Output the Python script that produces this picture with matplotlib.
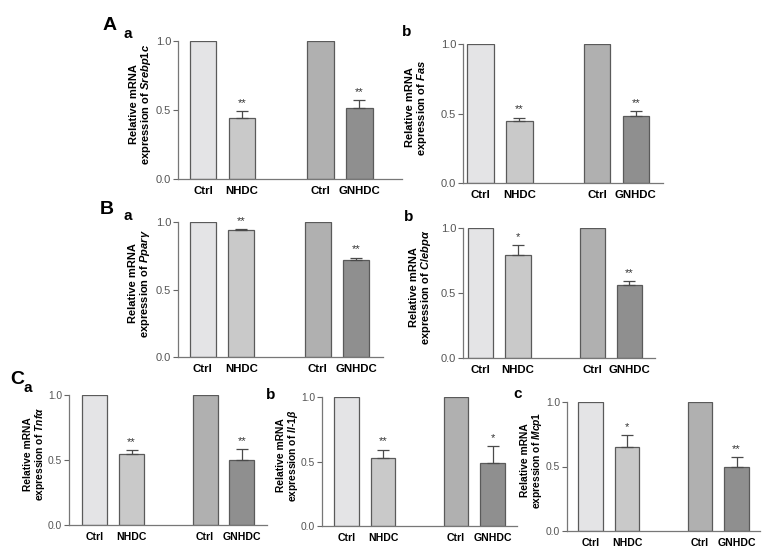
import numpy as np
import matplotlib.pyplot as plt

plt.rcParams['font.family'] = ['Liberation Sans', 'DejaVu Sans']
plt.rcParams['mathtext.fontset'] = 'custom'
plt.rcParams['mathtext.it'] = 'Liberation Sans:italic:bold'
plt.rcParams['mathtext.rm'] = 'Liberation Sans:bold'

# ---- data (relative mRNA expression, Ctrl = 1.0) ----
groups = ["Ctrl", "NHDC", "Ctrl", "GNHDC"]
genes = [r"$\it{Srebp1c}$", r"$\it{Fas}$", r"$\it{Ppar\gamma}$", r"$\it{C}$/$\it{ebp\alpha}$",
         r"$\it{Tnf\alpha}$", r"$\it{Il}$-$\it{1\beta}$", r"$\it{Mcp1}$"]
ctrl = [1.0, 1.0, 1.0, 1.0, 1.0, 1.0, 1.0]
nhdc = [0.44, 0.445, 0.943, 0.79, 0.546, 0.526, 0.65]
nhdc_err = [0.05, 0.025, 0.005, 0.08, 0.03, 0.065, 0.095]
gnhdc = [0.517, 0.48, 0.722, 0.56, 0.50, 0.487, 0.50]
gnhdc_err = [0.055, 0.035, 0.015, 0.03, 0.082, 0.13, 0.073]
nhdc_stars = ["**", "**", "**", "*", "**", "**", "*"]
gnhdc_stars = ["**", "**", "**", "**", "**", "*", "**"]

colors = ["#e4e4e6", "#c9c9c9", "#b0b0b0", "#8f8f8f"]
xpos = [0, 1, 3, 4]

W, H = 777, 557
fig = plt.figure(figsize=(W / 100, H / 100), dpi=100)

# panel boxes in pixels: x0, x1, y_top(1.0), y_bottom(0.0), xlim, label centre x, font size
boxes = [
    (178, 402, 41, 179, (-0.64, 5.09), 141, 8.0),
    (463, 663, 44, 183, (-0.45, 4.70), 417, 8.0),
    (178, 383, 222, 357, (-0.65, 4.70), 140, 8.0),
    (463, 655, 228, 358, (-0.48, 4.69), 421, 8.0),
    (69, 267, 395, 525, (-0.70, 4.68), 35, 7.4),
    (322, 517, 397, 526, (-0.67, 4.67), 288, 7.4),
    (567, 760, 402, 531, (-0.64, 4.64), 532, 7.4),
]

for i, (x0, x1, yt, yb, xl, lx, fs) in enumerate(boxes):
    ax = fig.add_axes([x0 / W, 1 - yb / H, (x1 - x0) / W, (yb - yt) / H])
    vals = [ctrl[i], nhdc[i], ctrl[i], gnhdc[i]]
    errs = [0, nhdc_err[i], 0, gnhdc_err[i]]
    ax.bar(xpos, vals, width=0.68, color=colors, edgecolor="#5a5a5a", linewidth=0.9, zorder=2)
    for k in (1, 3):
        ax.errorbar(xpos[k], vals[k], yerr=[[0], [errs[k]]], fmt="none",
                    ecolor="#4a4a4a", elinewidth=0.9, capsize=4, capthick=0.9, zorder=3)
    ax.text(xpos[1], nhdc[i] + nhdc_err[i] + 0.025, nhdc_stars[i], ha="center", va="bottom",
            fontsize=8, color="#333333")
    ax.text(xpos[3], gnhdc[i] + gnhdc_err[i] + 0.025, gnhdc_stars[i], ha="center", va="bottom",
            fontsize=8, color="#333333")
    ax.set_xlim(*xl)
    ax.set_ylim(0, 1.0)
    ax.set_yticks([0, 0.5, 1.0])
    ax.set_yticklabels(["0.0", "0.5", "1.0"])
    ax.set_xticks(xpos)
    ax.set_xticklabels(groups, fontweight="bold", fontsize=fs + 0.2)
    ax.tick_params(axis="x", length=0, pad=5)
    ax.tick_params(axis="y", length=3.5, width=0.8, color="#666666", labelsize=fs,
                   labelcolor="#555555", pad=1.5)
    for s in ("top", "right"):
        ax.spines[s].set_visible(False)
    for s in ("left", "bottom"):
        ax.spines[s].set_color("#777777")
        ax.spines[s].set_linewidth(0.9)
    ly = (yt + yb) / 2 - 6
    fig.text(lx / W, 1 - ly / H, "Relative mRNA\nexpression of " + genes[i], fontsize=fs,
             fontweight="bold", rotation=90, ha="center", va="center",
             multialignment="center", linespacing=1.05)

# panel letters
big = [("A", 110, 25), ("B", 107, 209), ("C", 17, 379)]
small = [("a", 128, 34), ("b", 407, 32), ("a", 128, 216), ("b", 409, 217),
         ("a", 28, 388), ("b", 271, 395), ("c", 518, 394)]
for t, x, y in big:
    fig.text(x / W, 1 - y / H, t, fontsize=14, fontweight="bold", ha="center", va="center")
for t, x, y in small:
    fig.text(x / W, 1 - y / H, t, fontsize=11, fontweight="bold", ha="center", va="center")

fig.savefig("out.png", dpi=100, facecolor="white")
